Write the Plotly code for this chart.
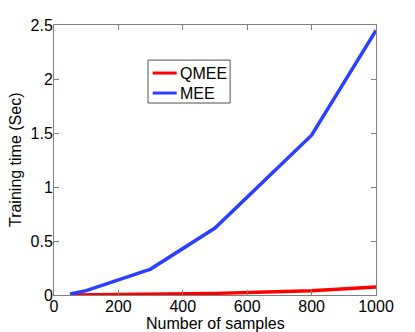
import plotly.graph_objects as go

samples = [50, 100, 300, 500, 800, 1000]
qmee_time = [0.001, 0.002, 0.006, 0.015, 0.04, 0.075]
mee_time = [0.01, 0.04, 0.24, 0.62, 1.48, 2.45]

x_ticks = [0, 200, 400, 600, 800, 1000]
y_ticks = [0, 0.5, 1, 1.5, 2, 2.5]
y_tick_labels = ["0", "0.5", "1", "1.5", "2", "2.5"]
series_names = ["QMEE", "MEE"]
series_colors = ["#ff0000", "#2a3fff"]

font_family = "Liberation Sans, Arial, Helvetica, sans-serif"

fig = go.Figure()
for name, ys, col in zip(series_names, [qmee_time, mee_time], series_colors):
    fig.add_trace(go.Scatter(x=samples, y=ys, mode="lines", name=name,
                             line=dict(color=col, width=3.5), showlegend=False))

axis_common = dict(showline=True, linecolor="#808080", linewidth=1, mirror="ticks",
                   ticks="inside", ticklen=5, tickcolor="#808080", showgrid=False,
                   zeroline=False, automargin=False,
                   tickfont=dict(size=16, color="black", family=font_family))

fig.update_xaxes(range=[0, 1000], tickvals=x_ticks, ticklabelstandoff=-3, **axis_common)
fig.update_yaxes(range=[0, 2.5], tickvals=y_ticks, ticktext=y_tick_labels,
                 ticklabelstandoff=-3, **axis_common)

fig.add_annotation(text="Number of samples", xref="paper", yref="paper",
                   x=0.5, y=-0.104, xanchor="center", yanchor="middle", showarrow=False,
                   font=dict(size=16, color="black", family=font_family))
fig.add_annotation(text="Training time (Sec)", xref="paper", yref="paper",
                   x=-0.121, y=0.5, xanchor="center", yanchor="middle", showarrow=False,
                   textangle=-90,
                   font=dict(size=16, color="black", family=font_family))

# manual legend box (paper coordinates)
fig.add_shape(type="rect", xref="paper", yref="paper", x0=0.292, x1=0.547,
              y0=0.711, y1=0.870, line=dict(color="#505050", width=1), fillcolor="white")
for i, (name, col) in enumerate(zip(series_names, series_colors)):
    yy = 0.822 - i * 0.074
    fig.add_shape(type="line", xref="paper", yref="paper", x0=0.3065, x1=0.381,
                  y0=yy, y1=yy, line=dict(color=col, width=3))
    fig.add_annotation(text=name, xref="paper", yref="paper", x=0.386, y=yy,
                       xanchor="left", yanchor="middle", showarrow=False,
                       font=dict(size=16, color="black", family=font_family))

fig.update_layout(
    width=415, height=332,
    margin=dict(l=54, r=39, t=25, b=37),
    paper_bgcolor="white", plot_bgcolor="white",
    font=dict(family=font_family, color="black"),
    showlegend=False,
)

fig.write_html("out.html", config={"displayModeBar": False},
               post_script="document.body.style.margin='0';")
